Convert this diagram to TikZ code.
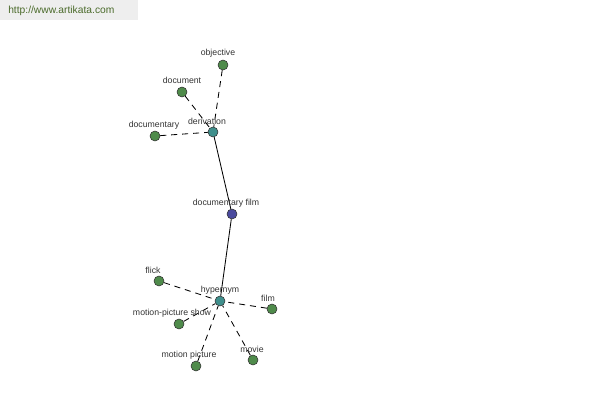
\documentclass[tikz,border=0pt]{standalone}
\usepackage{fontspec}
\setmainfont{Liberation Sans}
\definecolor{leafgreen}{HTML}{4F8B4B}
\definecolor{relteal}{HTML}{3F8F8C}
\definecolor{wordblue}{HTML}{4A4A9E}
\definecolor{sitegreen}{HTML}{4B6B2B}
\definecolor{bandgray}{HTML}{EEEEEE}
\begin{document}
\begin{tikzpicture}[x=0.025cm,y=-0.025cm,
			leaf/.style={circle,draw=black!80,fill=leafgreen,minimum size=2.5mm},
			rel/.style={circle,draw=black!80,fill=relteal,minimum size=2.5mm},
			word/.style={circle,draw=black!80,fill=wordblue,minimum size=2.5mm},
			lab/.style={font=\fontsize{6.2}{7}\selectfont,text=black!80},
			link/.style={line width=0.6pt,dash pattern=on 4.3pt off 3.5pt},
			inner sep=0pt]
			\useasboundingbox (0,0) rectangle (600,400);
			\fill [bandgray] (0,0) rectangle (138,20);
			\node [font=\fontsize{7.3}{8}\selectfont,text=sitegreen,anchor=west] (site) at (8,11) {http://www.artikata.com};
			% word and relations
			\node [word]			(docfilm)		at (232,214)			{};
			\node [rel]			(deriv)		at (213,132)			{}
				edge [-,line width=0.6pt] (docfilm);
			\node [rel]			(hyper)		at (220,301)			{}
				edge [-,line width=0.6pt] (docfilm);
			% derivation leaves
			\node [leaf]			(objective)		at (223,65)			{}
				edge [link] (deriv);
			\node [leaf]			(document)		at (182,92)			{}
				edge [link] (deriv);
			\node [leaf]			(documentary)	at (155,136)			{}
				edge [link] (deriv);
			% hypernym leaves
			\node [leaf]			(flick)		at (159,281)			{}
				edge [link] (hyper);
			\node [leaf]			(film)		at (272,309)			{}
				edge [link] (hyper);
			\node [leaf]			(mpshow)		at (179,324)			{}
				edge [link] (hyper);
			\node [leaf]			(mpicture)		at (196,366)			{}
				edge [link] (hyper);
			\node [leaf]			(movie)		at (253,360)			{}
				edge [link] (hyper);
			% labels
			\node [lab] (objectiveL) at (218,53) {objective};
			\node [lab] (documentL) at (182,80) {document};
			\node [lab] (documentaryL) at (154,125) {documentary};
			\node [lab] (derivL) at (207,121) {derivation};
			\node [lab] (docfilmL) at (226,203) {documentary film};
			\node [lab] (flickL) at (153,270) {flick};
			\node [lab] (hyperL) at (220,290) {hypernym};
			\node [lab] (filmL) at (268,298) {film};
			\node [lab] (mpshowL) at (172,313) {motion-picture show};
			\node [lab] (mpictureL) at (189,355) {motion picture};
			\node [lab] (movieL) at (252,349) {movie};
		\end{tikzpicture}
\end{document}
